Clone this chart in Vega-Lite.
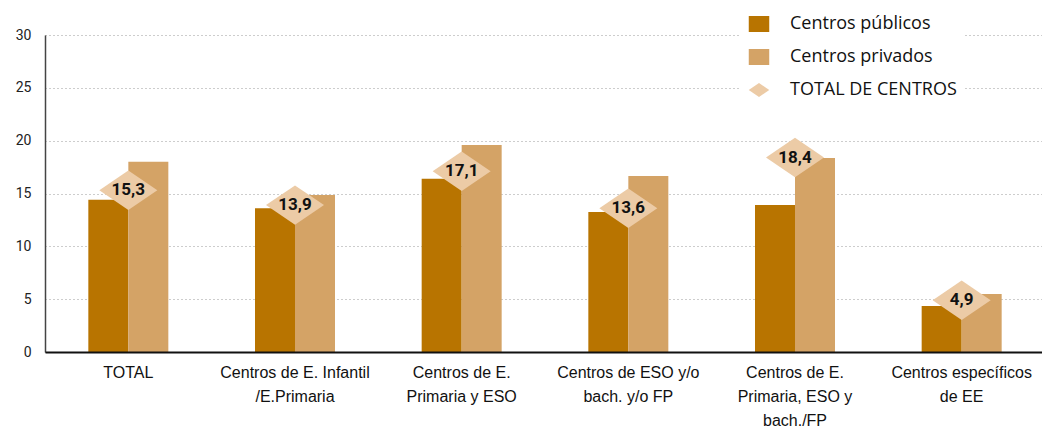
{
  "$schema": "https://vega.github.io/schema/vega-lite/v6.json",
  "width": 1000,
  "height": 317,
  "autosize": {"type": "none"},
  "padding": {"left": 45, "top": 35, "right": 0, "bottom": 84},
  "background": "white",
  "config": {
    "view": {"stroke": null},
    "locale": {"number": {"decimal": ",", "thousands": ".", "grouping": [3], "currency": ["", " €"]}}
  },
  "datasets": {
    "bars": [
      {"centro": "TOTAL", "serie": "Centros públicos", "valor": 14.4},
      {"centro": "TOTAL", "serie": "Centros privados", "valor": 18.0},
      {"centro": "Centros de E. Infantil|/E.Primaria", "serie": "Centros públicos", "valor": 13.6},
      {"centro": "Centros de E. Infantil|/E.Primaria", "serie": "Centros privados", "valor": 14.85},
      {"centro": "Centros de E.|Primaria y ESO", "serie": "Centros públicos", "valor": 16.4},
      {"centro": "Centros de E.|Primaria y ESO", "serie": "Centros privados", "valor": 19.6},
      {"centro": "Centros de ESO y/o|bach.  y/o FP", "serie": "Centros públicos", "valor": 13.25},
      {"centro": "Centros de ESO y/o|bach.  y/o FP", "serie": "Centros privados", "valor": 16.65},
      {"centro": "Centros de E.|Primaria, ESO y|bach./FP", "serie": "Centros públicos", "valor": 13.9},
      {"centro": "Centros de E.|Primaria, ESO y|bach./FP", "serie": "Centros privados", "valor": 18.35},
      {"centro": "Centros  específicos|de EE", "serie": "Centros públicos", "valor": 4.35},
      {"centro": "Centros  específicos|de EE", "serie": "Centros privados", "valor": 5.5}
    ],
    "totals": [
      {"centro": "TOTAL", "serie": "TOTAL DE CENTROS", "valor": 15.3},
      {"centro": "Centros de E. Infantil|/E.Primaria", "serie": "TOTAL DE CENTROS", "valor": 13.9},
      {"centro": "Centros de E.|Primaria y ESO", "serie": "TOTAL DE CENTROS", "valor": 17.1},
      {"centro": "Centros de ESO y/o|bach.  y/o FP", "serie": "TOTAL DE CENTROS", "valor": 13.6},
      {"centro": "Centros de E.|Primaria, ESO y|bach./FP", "serie": "TOTAL DE CENTROS", "valor": 18.4},
      {"centro": "Centros  específicos|de EE", "serie": "TOTAL DE CENTROS", "valor": 4.9}
    ]
  },
  "encoding": {
    "x": {
      "field": "centro", "type": "nominal", "sort": null,
      "scale": {"paddingInner": 0.52, "paddingOuter": 0.26},
      "axis": {
        "title": null, "labelAngle": 0, "labelExpr": "split(datum.label, '|')",
        "labelFont": "Liberation Sans Narrow, Liberation Sans", "labelFontSize": 16, "labelColor": "#111",
        "labelLineHeight": 24, "labelPadding": 12, "ticks": false,
        "domainColor": "#111", "domainWidth": 2, "labelBaseline": "top", "zindex": 1
      }
    },
    "y": {
      "field": "valor", "type": "quantitative",
      "scale": {"domain": [0, 30]},
      "axis": {
        "title": null, "values": [0, 5, 10, 15, 20, 25, 30], "format": "d",
        "labelFont": "Roboto", "labelFontSize": 14, "labelColor": "#222", "labelPadding": 14,
        "ticks": false, "domainColor": "#444", "domainWidth": 1.5,
        "gridColor": "#9a9a9a", "gridDash": [1, 3], "gridWidth": 1
      }
    }
  },
  "layer": [
    {
      "data": {"name": "bars"},
      "mark": {"type": "bar"},
      "encoding": {
        "xOffset": {"field": "serie", "sort": ["Centros públicos", "Centros privados"], "scale": {"paddingInner": 0, "paddingOuter": 0}},
        "color": {
          "field": "serie", "type": "nominal",
          "scale": {"domain": ["Centros públicos", "Centros privados", "TOTAL DE CENTROS"], "range": ["#B87400", "#D4A366", "#ECCBA6"]},
          "legend": {
            "title": null, "orient": "none", "legendX": 695, "legendY": -30,
            "fillColor": "white", "padding": 8, "labelFont": "Open Sans", "labelFontSize": 18, "labelColor": "#111",
            "labelOffset": 20, "labelLimit": 400, "rowPadding": 13, "symbolSize": 420, "symbolOpacity": 1
          }
        }
      }
    },
    {
      "data": {"name": "totals"},
      "mark": {"type": "point", "filled": true, "size": 3364, "opacity": 1},
      "encoding": {
        "color": {"field": "serie", "type": "nominal"},
        "shape": {
          "field": "serie", "type": "nominal",
          "scale": {"domain": ["Centros públicos", "Centros privados", "TOTAL DE CENTROS"], "range": ["M-1,-0.78L1,-0.78L1,0.78L-1,0.78Z", "M-1,-0.78L1,-0.78L1,0.78L-1,0.78Z", "M-1,0L0,-0.68L1,0L0,0.68Z"]}
        }
      }
    },
    {
      "data": {"name": "totals"},
      "mark": {"type": "text", "font": "Roboto", "fontSize": 17, "fontWeight": "bold", "color": "#111", "baseline": "middle"},
      "encoding": {
        "text": {"field": "valor", "type": "quantitative", "format": ".1f"}
      }
    }
  ]
}
